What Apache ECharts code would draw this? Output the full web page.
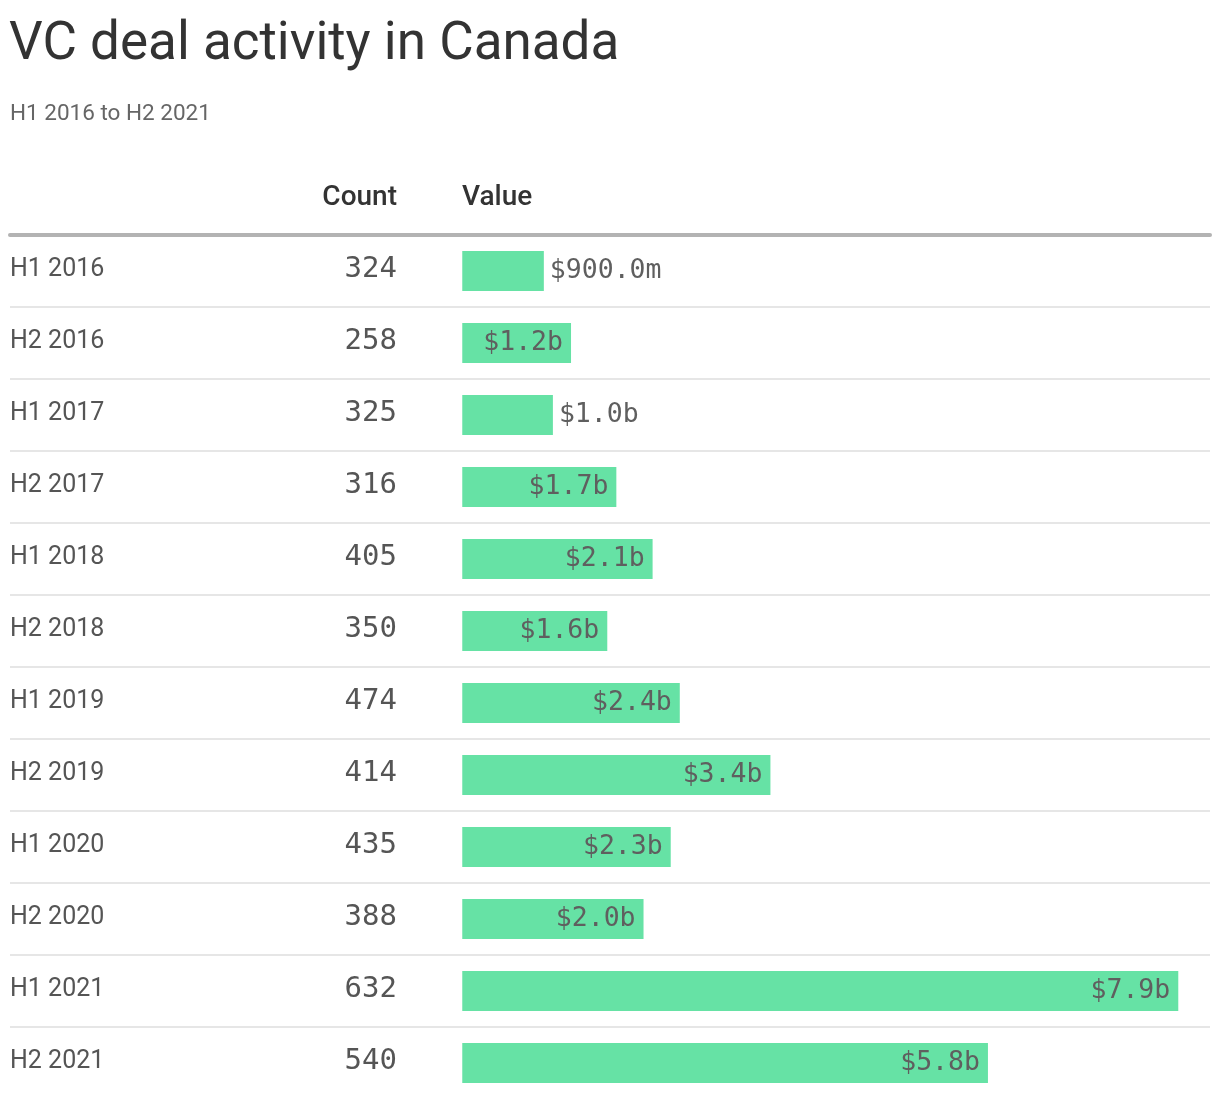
<!DOCTYPE html>
<html>
<head>
<meta charset="utf-8">
<script src="https://cdn.jsdelivr.net/npm/echarts@6/dist/echarts.min.js"></script>
<style>
html,body{margin:0;padding:0;background:#fff;}
#chart{width:1220px;height:1108px;}
</style>
</head>
<body>
<div id="chart"></div>
<script>
const periods = ['H1 2016','H2 2016','H1 2017','H2 2017','H1 2018','H2 2018','H1 2019','H2 2019','H1 2020','H2 2020','H1 2021','H2 2021'];
const counts = [324,258,325,316,405,350,474,414,435,388,632,540];
const valuesB = [0.9,1.2,1.0,1.7,2.1,1.6,2.4,3.4,2.3,2.0,7.9,5.8];
const columnHeaders = ['Count','Value'];
const titleText = 'VC deal activity in Canada';
const subtitleText = 'H1 2016 to H2 2021';

const SANS = 'Roboto, "Noto Sans", sans-serif';
const MONO = '"DejaVu Sans Mono", "Liberation Mono", monospace';

function fmtValue(v){
  return v < 1 ? '$' + (v*1000).toFixed(1) + 'm' : '$' + v.toFixed(1) + 'b';
}

const chart = echarts.init(document.getElementById('chart'), null, {renderer:'canvas'});
chart.setOption({
  animation:false,
  backgroundColor:'#fff',
  title:[
    {text:titleText, left:9, top:19, padding:0, textStyle:{fontFamily:SANS, fontSize:53, fontWeight:'normal', color:'#333'}},
    {text:subtitleText, left:10, top:103, padding:0, textStyle:{fontFamily:SANS, fontSize:22.5, fontWeight:'normal', color:'#666'}}
  ],
  graphic:[
    {type:'text', right:1220-397, top:184, style:{text:columnHeaders[0], font:'500 28px ' + SANS, fill:'#333', textAlign:'right'}},
    {type:'text', left:462, top:184, style:{text:columnHeaders[1], font:'500 28px ' + SANS, fill:'#333'}}
  ],
  grid:{left:10, right:10, top:235, height:936, containLabel:false, outerBoundsMode:'none'},
  xAxis:{
    type:'value', position:'top', min:-4.99, max:8.25,
    axisLine:{show:true, onZero:false, lineStyle:{color:'#b3b3b3', width:4}},
    axisTick:{show:false}, axisLabel:{show:false}, splitLine:{show:false}
  },
  yAxis:{
    type:'category', inverse:true, data:periods, max:periods.length,
    axisLine:{show:false}, axisTick:{show:false},
    splitLine:{show:true, interval:function(idx){ return idx < periods.length; }, lineStyle:{color:'#e6e6e6', width:2}},
    axisLabel:{
      inside:true, margin:0, align:'left', interval:0,
      formatter:function(value, idx){
        if (idx >= periods.length || value === undefined) return '';
        return '{a|' + value + '}{b|' + counts[idx] + '}';
      },
      rich:{
        a:{width:260, align:'left', fontFamily:SANS, fontSize:25, color:'#555', padding:[0,0,3,0]},
        b:{width:127, align:'right', fontFamily:MONO, fontSize:29, color:'#555', padding:[0,0,3,0]}
      }
    }
  },
  series:[{
    type:'bar', barWidth:40,
    itemStyle:{color:'#66e2a5'},
    data:valuesB.map(v => ({value:v, label:{position: v < 1.1 ? 'right' : 'insideRight', distance: v < 1.1 ? 6 : 8}})),
    label:{show:true, formatter:p => fmtValue(p.value), fontFamily:MONO, fontSize:26.5, color:'#5f5f5f'}
  }]
});
</script>
</body>
</html>
